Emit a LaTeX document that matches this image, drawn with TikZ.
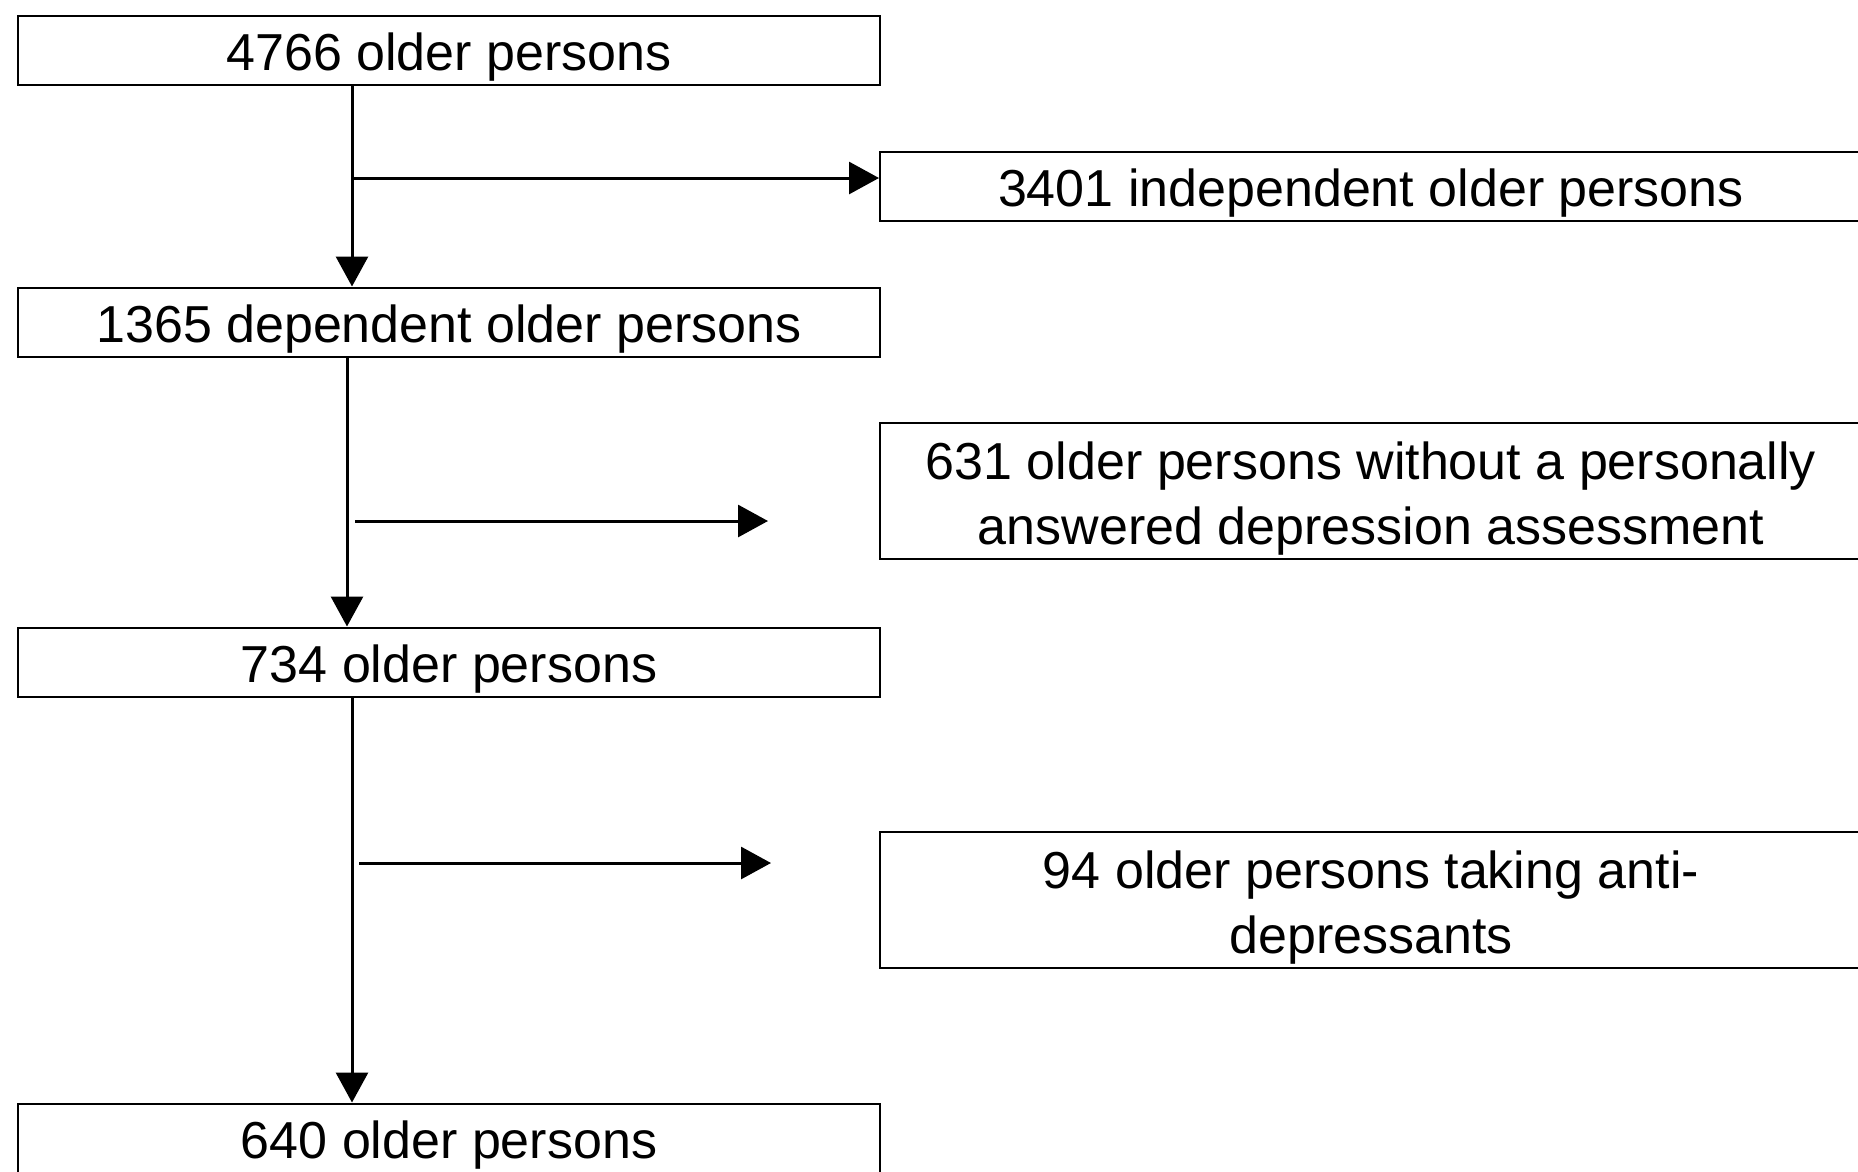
\documentclass[tikz,border=0pt]{standalone}
\usepackage{fontspec}
\setmainfont{Liberation Sans}
\usetikzlibrary{arrows.meta}
\tikzset{
  box/.style={draw, line width=2pt, rectangle, inner xsep=0pt, inner ysep=0pt, align=center,
    minimum width=862pt, text height=55pt, text depth=14pt, font=\fontsize{52}{65}\selectfont},
  sidebox/.style={box, minimum width=982pt},
  tallbox/.style={sidebox, text height=121pt, text depth=15pt},
  arr/.style={line width=3pt, -{Triangle[length=30pt,width=32pt]}}
}
\begin{document}
\begin{tikzpicture}[x=1pt,y=-1pt]
  \useasboundingbox (0,0) rectangle (1858,1171);
  \node[box] at (449, 50) (total) {4766 older persons};
  \node[sidebox] at (1371, 186) (indep) {3401 independent older persons};
  \node[box] at (449, 322) (dep) {1365 dependent older persons};
  \node[tallbox] at (1371, 491) (noans) {631 older persons without a personally\\answered depression assessment};
  \node[box] at (449, 662) (assessed) {734 older persons};
  \node[tallbox] at (1371, 900) (anti) {94 older persons taking anti-\\depressants};
  \node[box] at (449, 1138) (final) {640 older persons};
  \coordinate (s1) at (352, 178);
  \coordinate (s2) at (355, 521);
  \coordinate (e2) at (768, 521);
  \coordinate (s3) at (359, 863);
  \coordinate (e3) at (771, 863);
  \draw[arr] (total.south -| 352,0) -- (dep.north -| 352,0);
  \draw[arr] (dep.south -| 347,0) -- (assessed.north -| 347,0);
  \draw[arr] (assessed.south -| 352,0) -- (final.north -| 352,0);
  \draw[arr] (s1) -- (indep.west |- s1);
  \draw[arr] (s2) -- (e2);
  \draw[arr] (s3) -- (e3);
\end{tikzpicture}
\end{document}
